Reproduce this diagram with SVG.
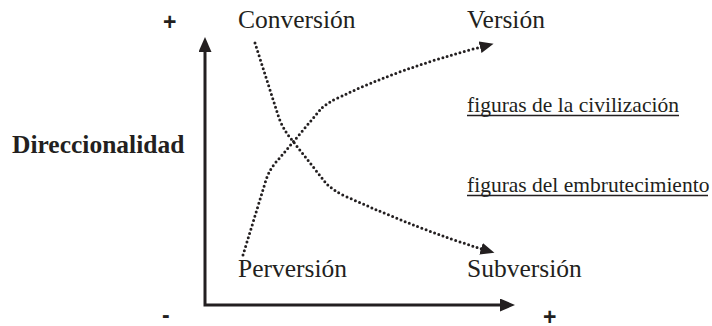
<svg xmlns="http://www.w3.org/2000/svg" width="712" height="326" viewBox="0 0 712 326">
  <style>
    .lbl { font-family: "Liberation Serif", "Times New Roman", serif; font-size: 25.5px; fill: #231f20; }
    .sign { font-family: "Liberation Sans", Arial, sans-serif; font-size: 23px; font-weight: bold; fill: #231f20; }
    .fig { font-family: "Liberation Serif", "Times New Roman", serif; font-size: 21.5px; fill: #231f20; }
    .uline { stroke: #231f20; stroke-width: 1.7; }
    .bold { font-weight: bold; }
    .axis { fill: none; stroke: #231f20; stroke-width: 3; stroke-linejoin: miter; }
    .dot { fill: none; stroke: #231f20; stroke-width: 3; stroke-linecap: round; stroke-dasharray: 0 4.5; }
  </style>
  <defs>
    <marker id="axhead" markerUnits="userSpaceOnUse" markerWidth="16" markerHeight="14" refX="1" refY="6.5" orient="auto-start-reverse">
      <path d="M0,0 L15,6.5 L0,13 z" fill="#231f20"/>
    </marker>
    <marker id="dothead" markerUnits="userSpaceOnUse" markerWidth="16" markerHeight="14" refX="1" refY="6" orient="auto">
      <path d="M0,0 L14,6 L0,12 z" fill="#231f20"/>
    </marker>
  </defs>

  <g id="connectors">
    <path id="axes" class="axis" d="M205,51 L205,305 L501,305" marker-start="url(#axhead)" marker-end="url(#axhead)"/>
    <path id="conversion-subversion" class="dot" d="M255,43 L278,115 Q282,128 292,140 L325,182 Q332,190 345,196 Q420,230 482,249" marker-end="url(#dothead)"/>
    <path id="perversion-version" class="dot" d="M243,255 L266,180 Q270,168 278,160 L320,110 Q326,103 340,97 Q400,68 481,47" marker-end="url(#dothead)"/>
  </g>

  <g id="plus-top"><text class="sign" x="163" y="30">+</text></g>
  <g id="conversion"><text class="lbl" x="238" y="28">Conversión</text></g>
  <g id="version"><text class="lbl" x="467" y="28">Versión</text></g>
  <g id="direccionalidad"><text class="lbl bold" x="12" y="153">Direccionalidad</text></g>
  <g id="civilizacion">
    <text class="fig" x="467" y="112">figuras de la civilización</text>
    <line class="uline" x1="467" y1="115.5" x2="679" y2="115.5"/>
  </g>
  <g id="embrutecimiento">
    <text class="fig" x="467" y="192">figuras del embrutecimiento</text>
    <line class="uline" x1="467" y1="195.5" x2="708" y2="195.5"/>
  </g>
  <g id="perversion"><text class="lbl" x="238" y="277">Perversión</text></g>
  <g id="subversion"><text class="lbl" x="467" y="277">Subversión</text></g>
  <g id="minus-bottom"><text class="sign" x="162" y="323">-</text></g>
  <g id="plus-bottom"><text class="sign" x="543" y="324.5">+</text></g>
</svg>
